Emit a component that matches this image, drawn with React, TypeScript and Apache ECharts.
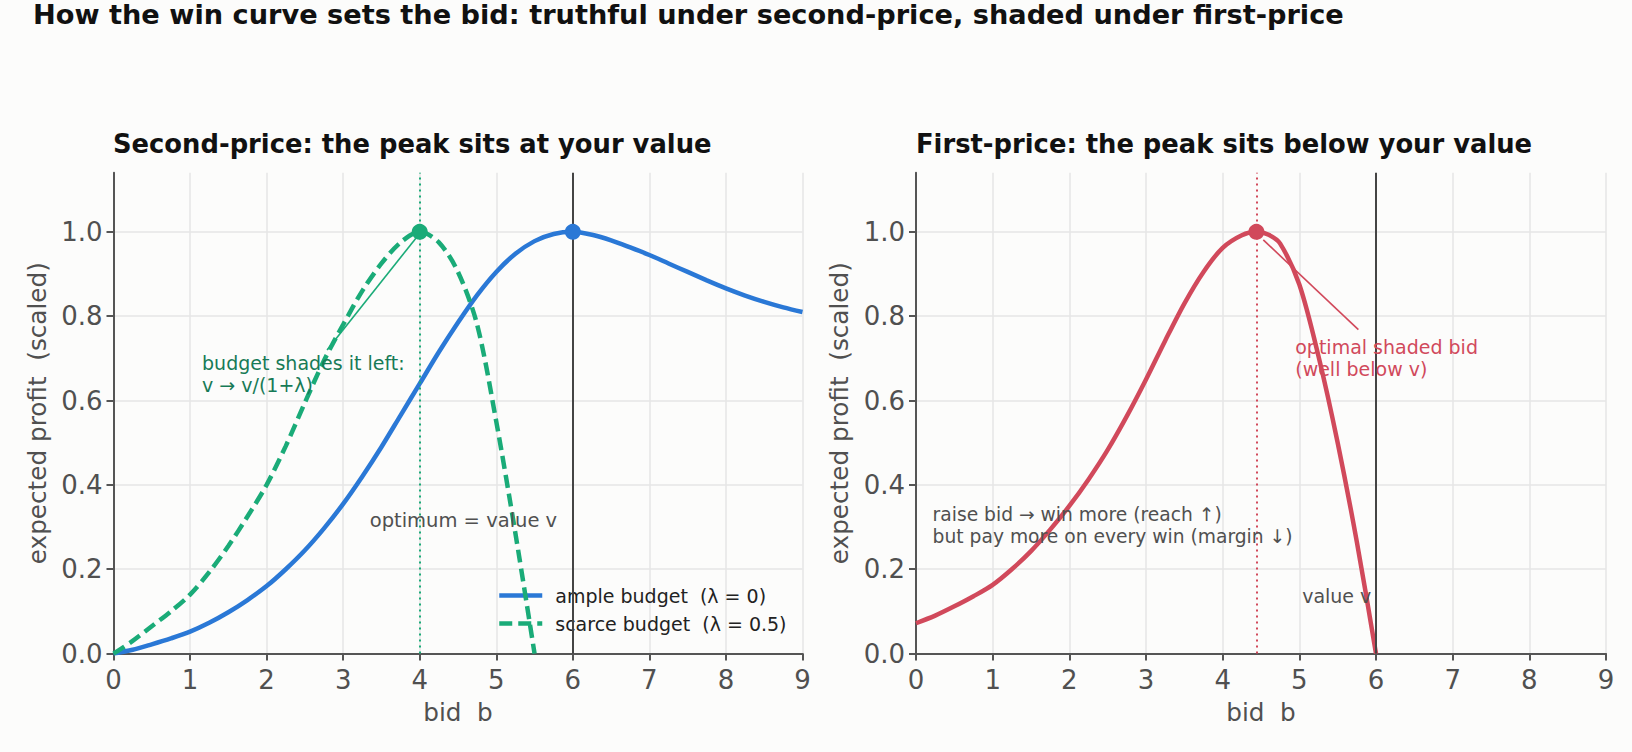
import React, { useEffect, useRef } from "react";
import * as echarts from "echarts";

// ---------- data ----------
const ampleBids = [0, 0.25, 0.5, 0.75, 1, 1.25, 1.5, 1.75, 2, 2.25, 2.5, 2.75, 3, 3.25, 3.5, 3.75, 4, 4.25, 4.5, 4.75, 5, 5.25, 5.5, 5.75, 6, 6.25, 6.5, 6.75, 7, 7.25, 7.5, 7.75, 8, 8.25, 8.5, 8.75, 9];
const ampleProfit = [0, 0.009, 0.022, 0.036, 0.052, 0.073, 0.098, 0.127, 0.16, 0.2, 0.245, 0.297, 0.355, 0.42, 0.49, 0.565, 0.64, 0.715, 0.785, 0.85, 0.905, 0.948, 0.978, 0.995, 1.0, 0.993, 0.98, 0.963, 0.945, 0.925, 0.905, 0.885, 0.866, 0.849, 0.834, 0.821, 0.81];

const scarceBids = [0, 0.25, 0.5, 0.75, 1, 1.25, 1.5, 1.75, 2, 2.25, 2.5, 2.75, 3, 3.25, 3.5, 3.75, 4, 4.25, 4.5, 4.75, 5, 5.25, 5.5];
const scarceProfit = [0, 0.03, 0.065, 0.1, 0.14, 0.193, 0.255, 0.325, 0.4, 0.492, 0.595, 0.695, 0.78, 0.86, 0.925, 0.975, 1.0, 0.975, 0.905, 0.78, 0.55, 0.285, 0];

const firstBids = [0, 0.25, 0.5, 0.75, 1, 1.25, 1.5, 1.75, 2, 2.25, 2.5, 2.75, 3, 3.25, 3.5, 3.75, 4, 4.25, 4.44, 4.6, 4.75, 5, 5.25, 5.5, 5.75, 6];
const firstProfit = [0.072, 0.09, 0.112, 0.136, 0.163, 0.2, 0.243, 0.294, 0.35, 0.413, 0.483, 0.563, 0.65, 0.742, 0.83, 0.905, 0.962, 0.992, 1.0, 0.993, 0.972, 0.875, 0.705, 0.5, 0.265, 0];

const valueV = 6;
const scarceOptimum = 4;
const shadedOptimum = 4.44;
const peakProfit = 1.0;

const yTickValues = [0, 0.2, 0.4, 0.6, 0.8, 1.0];

const mainTitle = "How the win curve sets the bid: truthful under second-price, shaded under first-price";
const leftTitle = "Second-price: the peak sits at your value";
const rightTitle = "First-price: the peak sits below your value";
const seriesNames = ["ample budget  (λ = 0)", "scarce budget  (λ = 0.5)"];

// ---------- styles ----------
const FONT = "DejaVu Sans";
const BLUE = "#2a78d6";
const GREEN = "#1aab78";
const GREEN_TEXT = "#177a56";
const RED = "#d1495b";
const GRAY_TEXT = "#505050";
const AXIS = "#555555";
const VLINE = "#444444";
const LW = 4.5;
const SMOOTH = 0.3;

const pairs = (xs: number[], ys: number[]) => xs.map((x, i) => [x, ys[i]]);

function makeX(gridIndex: number) {
  return {
    type: "value",
    gridIndex,
    min: 0,
    max: 9,
    interval: 1,
    name: "bid  b",
    nameLocation: "middle",
    nameGap: 46,
    nameTextStyle: { fontSize: 24.7, color: GRAY_TEXT, fontFamily: FONT },
    axisLine: { show: true, onZero: false, lineStyle: { color: AXIS, width: 2 } },
    axisTick: { show: true, length: 7, lineStyle: { color: AXIS, width: 2 } },
    axisLabel: { color: GRAY_TEXT, fontSize: 26, margin: 13, fontFamily: FONT },
    splitLine: { show: true, lineStyle: { color: "#e6e6e6", width: 1.5 } },
  };
}

function makeY(gridIndex: number) {
  return {
    type: "value",
    gridIndex,
    min: 0,
    max: 1.14,
    interval: 0.2,
    name: "expected profit  (scaled)",
    nameLocation: "middle",
    nameGap: 64,
    nameTextStyle: { fontSize: 24.7, color: GRAY_TEXT, fontFamily: FONT },
    axisLine: { show: true, onZero: false, lineStyle: { color: AXIS, width: 2 } },
    axisTick: { show: true, length: 7, customValues: yTickValues, lineStyle: { color: AXIS, width: 2 } },
    axisLabel: {
      color: GRAY_TEXT,
      fontSize: 26,
      margin: 11,
      fontFamily: FONT,
      customValues: yTickValues,
      formatter: (v: number) => v.toFixed(1),
    },
    splitLine: { show: true, lineStyle: { color: "#e6e6e6", width: 1.5 } },
  };
}

function textPoint(x: number, y: number, text: string, color: string, size = 19) {
  return {
    value: [x, y],
    label: {
      show: true,
      position: "right",
      distance: 0,
      formatter: text,
      color,
      fontSize: size,
      lineHeight: 22,
      fontFamily: FONT,
      align: "left",
    },
  };
}

export default function App() {
  const ref = useRef<HTMLDivElement>(null);

  useEffect(() => {
    document.body.style.margin = "0";
    document.body.style.background = "#fcfcfb";
    if (!ref.current) return;
    const chart = echarts.init(ref.current, undefined, { renderer: "svg" });

    const mainStyle = { fontSize: 27.2, fontWeight: "bold", color: "#111111", fontFamily: FONT };
    const subStyle = { fontSize: 25.8, fontWeight: "bold", color: "#111111", fontFamily: FONT };

    const option: any = {
      animation: false,
      backgroundColor: "#fcfcfb",
      title: [
        { text: mainTitle, left: 33, top: 1, padding: 0, textStyle: mainStyle },
        { text: leftTitle, left: 113, top: 131, padding: 0, textStyle: subStyle },
        { text: rightTitle, left: 916, top: 131, padding: 0, textStyle: subStyle },
      ],
      grid: [
        { left: 113.5, top: 172.8, width: 689, height: 480.8 },
        { left: 916, top: 172.8, width: 690, height: 480.8 },
      ],
      xAxis: [makeX(0), makeX(1)],
      yAxis: [makeY(0), makeY(1)],
      legend: {
        data: seriesNames,
        orient: "vertical",
        left: 497,
        top: 586,
        itemWidth: 43,
        itemHeight: 20,
        itemGap: 9,
        padding: 0,
        itemStyle: { opacity: 0 },
        lineStyle: { width: LW },
        textStyle: { fontSize: 19, color: "#222222", fontFamily: FONT, padding: [0, 0, 0, 8] },
      },
      series: [
        {
          name: seriesNames[0],
          type: "line",
          xAxisIndex: 0,
          yAxisIndex: 0,
          data: pairs(ampleBids, ampleProfit),
          smooth: SMOOTH,
          symbol: "none",
          lineStyle: { color: BLUE, width: LW },
          itemStyle: { color: BLUE },
          z: 4,
          markLine: {
            silent: true,
            symbol: ["none", "none"],
            label: { show: false },
            data: [
              { xAxis: valueV, lineStyle: { color: VLINE, width: 2, type: "solid" } },
              { xAxis: scarceOptimum, lineStyle: { color: GREEN, width: 2, type: [2, 4] } },
            ],
          },
        },
        {
          name: seriesNames[1],
          type: "line",
          xAxisIndex: 0,
          yAxisIndex: 0,
          data: pairs(scarceBids, scarceProfit),
          smooth: SMOOTH,
          symbol: "none",
          lineStyle: { color: GREEN, width: LW, type: [13, 6] },
          itemStyle: { color: GREEN },
          z: 4,
        },
        {
          name: "peaks-left",
          type: "scatter",
          xAxisIndex: 0,
          yAxisIndex: 0,
          symbolSize: 16,
          z: 6,
          itemStyle: { opacity: 1 },
          data: [
            { value: [scarceOptimum, peakProfit], itemStyle: { color: GREEN, opacity: 1 } },
            { value: [valueV, peakProfit], itemStyle: { color: BLUE, opacity: 1 } },
          ],
        },
        {
          name: "notes-left",
          type: "scatter",
          xAxisIndex: 0,
          yAxisIndex: 0,
          symbolSize: 1,
          silent: true,
          itemStyle: { color: "rgba(0,0,0,0)", opacity: 1 },
          z: 7,
          data: [
            textPoint(1.15, 0.664, "budget shades it left:\nv → v/(1+λ)", GREEN_TEXT),
            textPoint(3.34, 0.316, "optimum = value v", GRAY_TEXT, 19.5),
          ],
          markLine: {
            silent: true,
            symbol: ["none", "arrow"],
            symbolSize: [0, 10],
            label: { show: false },
            lineStyle: { color: GREEN, width: 1.6, type: "solid" },
            data: [[{ coord: [2.79, 0.72] }, { coord: [3.95, 0.985] }]],
          },
        },
        {
          name: "first-price",
          type: "line",
          xAxisIndex: 1,
          yAxisIndex: 1,
          data: pairs(firstBids, firstProfit),
          smooth: SMOOTH,
          symbol: "none",
          lineStyle: { color: RED, width: LW },
          itemStyle: { color: RED },
          z: 4,
          markLine: {
            silent: true,
            symbol: ["none", "none"],
            label: { show: false },
            data: [
              { xAxis: valueV, lineStyle: { color: VLINE, width: 2, type: "solid" } },
              { xAxis: shadedOptimum, lineStyle: { color: RED, width: 2, type: [2, 4] } },
            ],
          },
        },
        {
          name: "peak-right",
          type: "scatter",
          xAxisIndex: 1,
          yAxisIndex: 1,
          symbolSize: 16,
          z: 6,
          itemStyle: { opacity: 1 },
          data: [{ value: [shadedOptimum, peakProfit], itemStyle: { color: RED, opacity: 1 } }],
        },
        {
          name: "notes-right",
          type: "scatter",
          xAxisIndex: 1,
          yAxisIndex: 1,
          symbolSize: 1,
          silent: true,
          itemStyle: { color: "rgba(0,0,0,0)", opacity: 1 },
          z: 7,
          data: [
            textPoint(4.94, 0.702, "optimal shaded bid\n(well below v)", RED),
            textPoint(0.21, 0.304, "raise bid → win more (reach ↑)\nbut pay more on every win (margin ↓)", GRAY_TEXT, 18.7),
            textPoint(5.03, 0.137, "value v", GRAY_TEXT),
          ],
          markLine: {
            silent: true,
            symbol: ["none", "arrow"],
            symbolSize: [0, 10],
            label: { show: false },
            lineStyle: { color: RED, width: 1.6, type: "solid" },
            data: [[{ coord: [5.77, 0.768] }, { coord: [4.53, 0.981] }]],
          },
        },
      ],
    };

    chart.setOption(option);
    return () => chart.dispose();
  }, []);

  return (
    <div
      ref={ref}
      style={{ width: 1632, height: 752, position: "absolute", left: 0, top: 0 }}
    />
  );
}
